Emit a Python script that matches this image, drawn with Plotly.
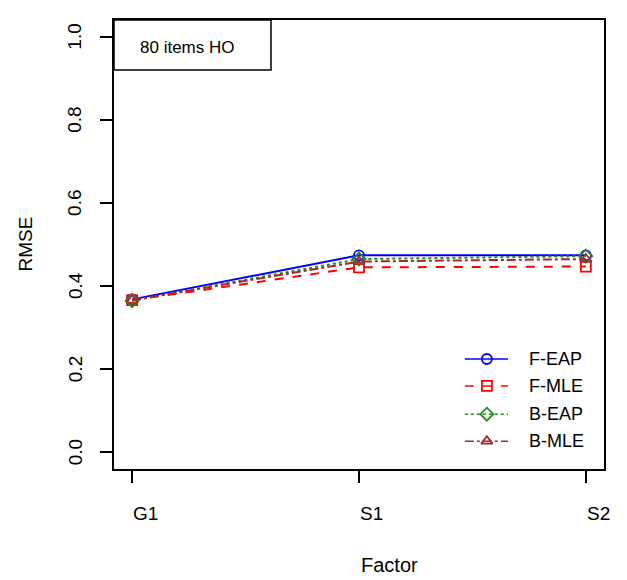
import plotly.graph_objects as go

factors = ["G1", "S1", "S2"]
x_pos = [1, 2, 3]
f_eap = [0.368, 0.474, 0.474]
f_mle = [0.366, 0.445, 0.447]
b_eap = [0.365, 0.465, 0.472]
b_mle = [0.366, 0.459, 0.465]
y_ticks = [0.0, 0.2, 0.4, 0.6, 0.8, 1.0]
y_tick_labels = ["0.0", "0.2", "0.4", "0.6", "0.8", "1.0"]

FONT = "Liberation Sans, Arial, sans-serif"

series = [
    ("F-EAP", f_eap, "#0000FF", "solid", "circle-open"),
    ("F-MLE", f_mle, "#FF0000", "dash", "square-open"),
    ("B-EAP", b_eap, "#228B22", "dot", "diamond-open"),
    ("B-MLE", b_mle, "#A52A2A", "dashdot", "triangle-up-open"),
]

# legend layout in plot-fraction coordinates
leg_x0, leg_xm, leg_x1, leg_tx = 0.716, 0.761, 0.804, 0.843
leg_y = [0.245, 0.185, 0.122, 0.062]

fig = go.Figure()
for name, vals, col, dash, sym in series:
    fig.add_trace(go.Scatter(
        x=x_pos, y=vals, name=name, mode="lines+markers",
        line=dict(color=col, width=2, dash=dash),
        marker=dict(symbol=sym, size=10, color=col, line=dict(color=col, width=1.8)),
        showlegend=False,
    ))

annotations = []
for (name, vals, col, dash, sym), ly in zip(series, leg_y):
    fig.add_trace(go.Scatter(
        x=[leg_x0, leg_x1], y=[ly, ly], mode="lines", xaxis="x2", yaxis="y2",
        line=dict(color=col, width=1.5, dash=dash), showlegend=False, hoverinfo="skip"))
    fig.add_trace(go.Scatter(
        x=[leg_xm], y=[ly], mode="markers", xaxis="x2", yaxis="y2",
        marker=dict(symbol=sym, size=10, color=col, line=dict(color=col, width=1.8)),
        showlegend=False, hoverinfo="skip"))
    annotations.append(dict(x=leg_tx, y=ly, xref="x2", yref="y2", text=name,
                            showarrow=False, xanchor="left", yanchor="middle",
                            font=dict(size=18, family=FONT)))

axis_common = dict(ticks="outside", ticklen=12, tickwidth=1.5, tickcolor="black",
                   showline=True, linecolor="black", linewidth=1.5, mirror=True,
                   showgrid=False, zeroline=False, showticklabels=False)

fig.update_layout(
    width=627, height=580,
    margin=dict(l=114, r=23, t=20, b=111),
    paper_bgcolor="white", plot_bgcolor="white",
    font=dict(family=FONT, size=18, color="black"),
    showlegend=False,
    xaxis=dict(range=[0.92, 3.08], tickvals=x_pos, **axis_common),
    yaxis=dict(range=[-0.04, 1.04], tickvals=y_ticks, **axis_common),
    xaxis2=dict(range=[0, 1], overlaying="x", visible=False, fixedrange=True),
    yaxis2=dict(range=[0, 1], overlaying="y", visible=False, fixedrange=True),
)

for xv, lab in zip(x_pos, factors):
    annotations.append(dict(x=xv, y=0, xref="x", yref="paper", text=lab,
                            showarrow=False, xanchor="left", yanchor="middle",
                            yshift=-44, xshift=-1, font=dict(size=19, family=FONT)))
for yv, lab in zip(y_ticks, y_tick_labels):
    annotations.append(dict(x=0, y=yv, xref="paper", yref="y", text=lab,
                            showarrow=False, xanchor="center", yanchor="middle",
                            xshift=-39, textangle=-90, font=dict(size=19, family=FONT)))
annotations.append(dict(x=0.5, y=0, xref="paper", yref="paper", text="Factor",
                        showarrow=False, xanchor="center", yanchor="middle",
                        yshift=-96, xshift=30, font=dict(size=20, family=FONT)))
annotations.append(dict(x=0, y=0.5, xref="paper", yref="paper", text="RMSE",
                        showarrow=False, xanchor="center", yanchor="middle",
                        xshift=-89, textangle=-90, font=dict(size=19, family=FONT)))
annotations.append(dict(x=0, y=1, xref="paper", yref="paper", text="80 items HO",
                        showarrow=False, xanchor="left", yanchor="middle",
                        xshift=24, yshift=-27, font=dict(size=17, family=FONT)))
fig.update_layout(annotations=annotations)

fig.add_shape(type="rect", xref="paper", yref="paper", x0=0, x1=157/490, y0=1, y1=1 - 50/449,
              line=dict(color="black", width=1.5), fillcolor="rgba(0,0,0,0)")

fig.write_html("out.html")
